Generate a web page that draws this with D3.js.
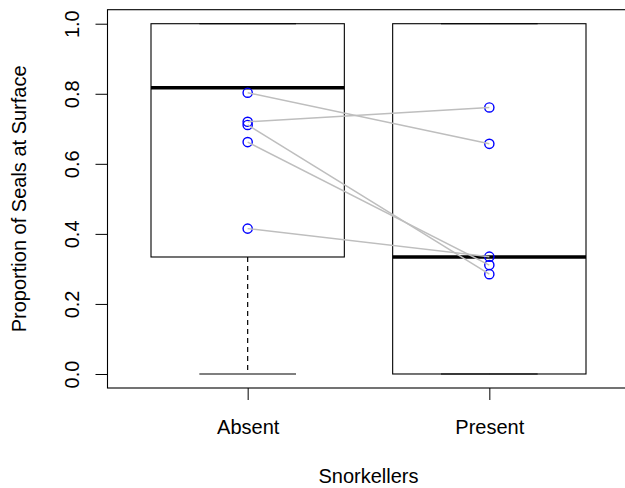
<!DOCTYPE html>
<html>
<head>
<meta charset="utf-8">
<script src="https://cdn.jsdelivr.net/npm/d3@7"></script>
<style>
  body { margin: 0; background: #fff; }
  svg text { font-family: "Liberation Sans", Arial, Helvetica, sans-serif; fill: #000; }
</style>
</head>
<body>
<div id="chart-area"></div>
<script>

// categories
var groups = ["Absent", "Present"];

// box stats per group: lower whisker, Q1, median, Q3, upper whisker
var boxLow    = [0.000, 0.000];
var boxQ1     = [0.334, 0.000];
var boxMedian = [0.817, 0.334];
var boxQ3     = [1.000, 1.000];
var boxHigh   = [1.000, 1.000];

// paired observations (same index = same trial)
var absentVals  = [0.803, 0.720, 0.711, 0.662, 0.415];
var presentVals = [0.657, 0.761, 0.285, 0.311, 0.335];

var yTicks = [0, 0.2, 0.4, 0.6, 0.8, 1.0];

var width = 625, height = 488;

var svg = d3.select("#chart-area")
    .append("svg")
        .attr("width", width)
        .attr("height", height);

// R style 4% padding on both axes
var xScale = d3.scaleLinear().domain([0.42, 2.58]).range([107.5, 629.5]);
var yScale = d3.scaleLinear().domain([-0.04, 1.04]).range([388, 9.7]);

var halfBox = 0.4, halfCap = 0.2;

// boxes
var boxes = svg.append("g").selectAll("g")
    .data(groups)
    .enter()
    .append("g");

// whiskers (dashed)
boxes.append("line")
    .attr("x1", function(d, i) { return xScale(i + 1); })
    .attr("x2", function(d, i) { return xScale(i + 1); })
    .attr("y1", function(d, i) { return yScale(boxQ1[i]); })
    .attr("y2", function(d, i) { return yScale(boxLow[i]); })
    .attr("stroke", "#000").attr("stroke-width", 1.2).attr("stroke-dasharray", "5,4");
boxes.append("line")
    .attr("x1", function(d, i) { return xScale(i + 1); })
    .attr("x2", function(d, i) { return xScale(i + 1); })
    .attr("y1", function(d, i) { return yScale(boxQ3[i]); })
    .attr("y2", function(d, i) { return yScale(boxHigh[i]); })
    .attr("stroke", "#000").attr("stroke-width", 1.2).attr("stroke-dasharray", "5,4");

// staples
[boxLow, boxHigh].forEach(function(arr) {
    boxes.append("line")
        .attr("x1", function(d, i) { return xScale(i + 1 - halfCap); })
        .attr("x2", function(d, i) { return xScale(i + 1 + halfCap); })
        .attr("y1", function(d, i) { return yScale(arr[i]); })
        .attr("y2", function(d, i) { return yScale(arr[i]); })
        .attr("stroke", "#000").attr("stroke-width", 1.1);
});

boxes.append("rect")
    .attr("x", function(d, i) { return xScale(i + 1 - halfBox); })
    .attr("width", function(d, i) { return xScale(i + 1 + halfBox) - xScale(i + 1 - halfBox); })
    .attr("y", function(d, i) { return yScale(boxQ3[i]); })
    .attr("height", function(d, i) { return yScale(boxQ1[i]) - yScale(boxQ3[i]); })
    .attr("fill", "none").attr("stroke", "#000").attr("stroke-width", 1.1);

boxes.append("line")
    .attr("x1", function(d, i) { return xScale(i + 1 - halfBox); })
    .attr("x2", function(d, i) { return xScale(i + 1 + halfBox); })
    .attr("y1", function(d, i) { return yScale(boxMedian[i]); })
    .attr("y2", function(d, i) { return yScale(boxMedian[i]); })
    .attr("stroke", "#000").attr("stroke-width", 3.5);

// points
var pts = svg.append("g");
pts.selectAll("circle.a")
    .data(absentVals)
    .enter()
    .append("circle")
    .attr("cx", xScale(1))
    .attr("cy", function(d) { return yScale(d); })
    .attr("r", 4.6)
    .attr("fill", "none").attr("stroke", "#0000ff").attr("stroke-width", 1.4);
pts.selectAll("circle.p")
    .data(presentVals)
    .enter()
    .append("circle")
    .attr("cx", xScale(2))
    .attr("cy", function(d) { return yScale(d); })
    .attr("r", 4.6)
    .attr("fill", "none").attr("stroke", "#0000ff").attr("stroke-width", 1.4);

// pair lines
svg.append("g").selectAll("line")
    .data(absentVals)
    .enter()
    .append("line")
    .attr("x1", xScale(1))
    .attr("x2", xScale(2))
    .attr("y1", function(d) { return yScale(d); })
    .attr("y2", function(d, i) { return yScale(presentVals[i]); })
    .attr("stroke", "#bebebe").attr("stroke-width", 1.5);

// frame
svg.append("rect")
    .attr("x", xScale.range()[0]).attr("y", yScale.range()[1])
    .attr("width", xScale.range()[1] - xScale.range()[0])
    .attr("height", yScale.range()[0] - yScale.range()[1])
    .attr("fill", "none").attr("stroke", "#000").attr("stroke-width", 1.1);

// axes
var yAxis = d3.axisLeft(yScale).tickValues(yTicks).tickSize(12).tickFormat(d3.format(".1f"));
var yAxisEl = svg.append("g")
    .attr("transform", "translate(" + xScale.range()[0] + ",0)")
    .call(yAxis);
yAxisEl.select(".domain").remove();
yAxisEl.selectAll("line").attr("stroke", "#000");
yAxisEl.selectAll("text")
    .attr("x", 0).attr("dy", 0).attr("y", 0)
    .attr("text-anchor", "middle")
    .attr("transform", "translate(-29,0) rotate(-90)")
    .style("font-size", "20px");

var xAxis = d3.axisBottom(xScale).tickValues([1, 2]).tickSize(12)
    .tickFormat(function(d) { return groups[d - 1]; });
var xAxisEl = svg.append("g")
    .attr("transform", "translate(0," + yScale.range()[0] + ")")
    .call(xAxis);
xAxisEl.select(".domain").remove();
xAxisEl.selectAll("line").attr("stroke", "#000");
xAxisEl.selectAll("text")
    .attr("y", 46).attr("dy", 0)
    .style("font-size", "20px");

// axis titles
svg.append("text")
    .attr("x", xScale(1.5)).attr("y", 483)
    .attr("text-anchor", "middle")
    .style("font-size", "20px")
    .text("Snorkellers");

svg.append("text")
    .attr("transform", "translate(25.5," + ((yScale.range()[0] + yScale.range()[1]) / 2) + ") rotate(-90)")
    .attr("text-anchor", "middle")
    .style("font-size", "20px")
    .text("Proportion of Seals at Surface");

</script>
</body>
</html>
